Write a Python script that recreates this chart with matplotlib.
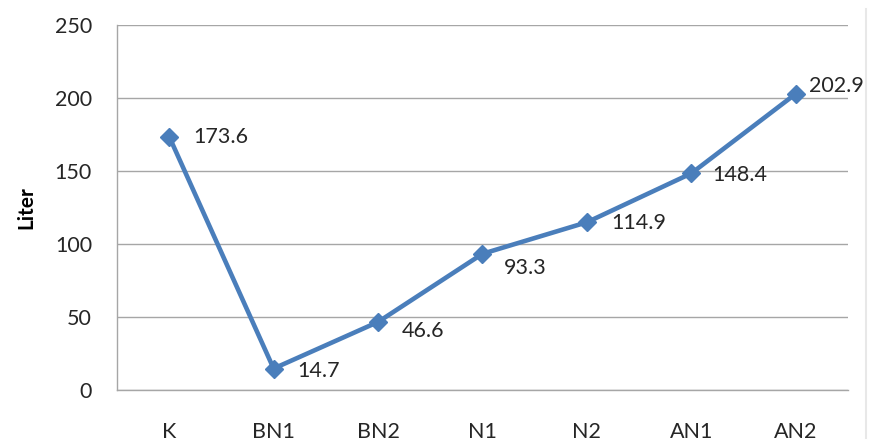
import matplotlib.pyplot as plt
from matplotlib.lines import Line2D

# Data
categories = ['K', 'BN1', 'BN2', 'N1', 'N2', 'AN1', 'AN2']
liters = [173.6, 14.7, 46.6, 93.3, 114.9, 148.4, 202.9]

# label offsets in pixels (dx, dy) from each point
label_offsets = [(24, 0), (24, -2), (24, -9), (21, -14), (24, -1), (21, -2), (13, 8)]

plt.rcParams['font.family'] = ['Lato', 'DejaVu Sans']

fig = plt.figure(figsize=(8.69, 4.47), dpi=100)
ax = fig.add_axes([0.1346, 0.1275, 0.8412, 0.8165])

x = range(len(categories))
ax.plot(x, liters, color='#4a7ebb', linewidth=3.3, marker='D', markersize=9.5,
        markerfacecolor='#4a7ebb', markeredgecolor='#4a7ebb', zorder=3)

for xi, v, (dx, dy) in zip(x, liters, label_offsets):
    ax.annotate(f'{v}', (xi, v), xytext=(dx, dy), textcoords='offset pixels',
                ha='left', va='center', fontsize=15.5, color='#262626',
                annotation_clip=False, zorder=4)

ax.set_xlim(-0.5, len(categories) - 0.5)
ax.set_ylim(0, 250)
ax.set_yticks(range(0, 251, 50))
ax.set_xticks(list(x))
ax.set_xticklabels(categories)

ax.grid(axis='y', color='#a6a6a6', linewidth=1)
ax.set_axisbelow(True)
for side in ['top', 'right']:
    ax.spines[side].set_visible(False)
for side in ['left', 'bottom']:
    ax.spines[side].set_color('#a6a6a6')
    ax.spines[side].set_linewidth(1)

ax.tick_params(axis='both', length=0, labelsize=15.5, labelcolor='#262626')
ax.tick_params(axis='y', pad=18)
ax.tick_params(axis='x', pad=23)

ax.set_ylabel('Liter', fontsize=15, fontweight='bold', labelpad=13)

# faint edge line on the right
fig.add_artist(Line2D([0.996, 0.996], [0.02, 0.98], transform=fig.transFigure,
                      color='#e8e8e8', linewidth=1.5))

fig.savefig('out.png', dpi=100)
